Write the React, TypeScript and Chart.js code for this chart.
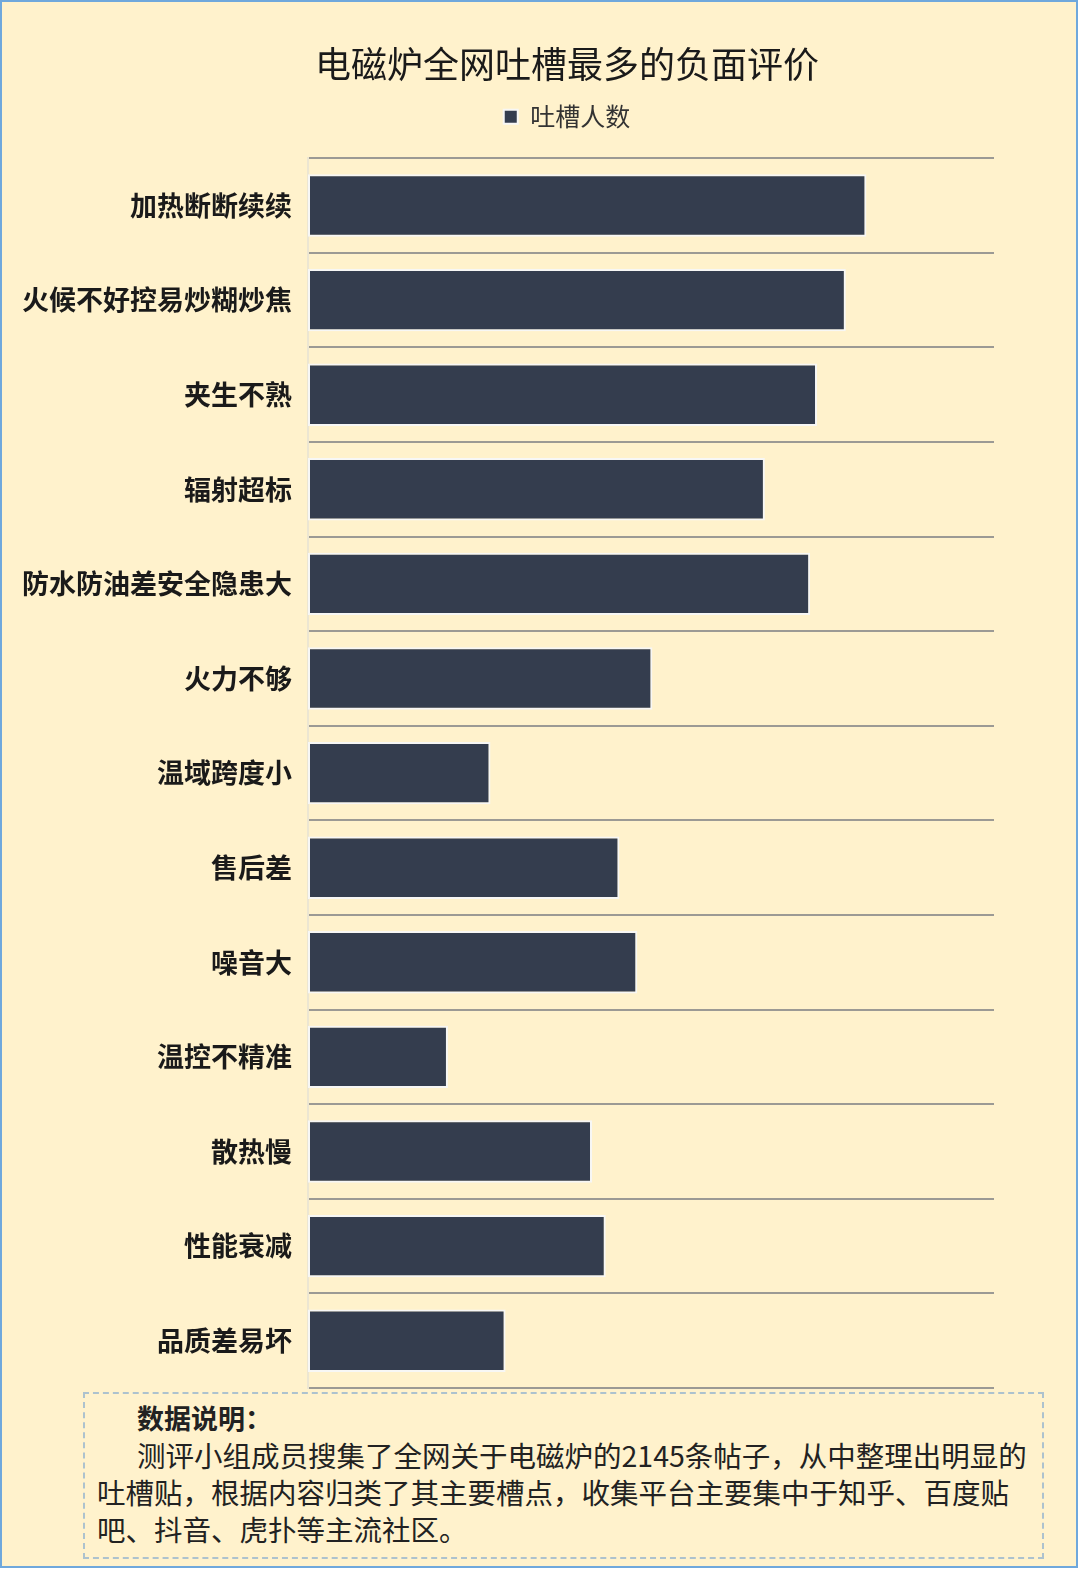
import React, { useEffect, useRef } from "react";
import { Chart, registerables } from "chart.js";

Chart.register(...registerables);

const categories = [
  "加热断断续续",
  "火候不好控易炒糊炒焦",
  "夹生不熟",
  "辐射超标",
  "防水防油差安全隐患大",
  "火力不够",
  "温域跨度小",
  "售后差",
  "噪音大",
  "温控不精准",
  "散热慢",
  "性能衰减",
  "品质差易坏",
];

const complaintCounts = [407, 392, 371, 333, 366, 251, 133, 227, 240, 102, 207, 217, 144];

const seriesName = "吐槽人数";
const chartTitle = "电磁炉全网吐槽最多的负面评价";
const axisMax = 500;

const FONT = '"Noto Sans CJK SC", "Noto Sans", sans-serif';

const legendSpacer = {
  id: "legendSpacer",
  beforeInit(chart: any) {
    const legend = chart.legend;
    if (!legend) return;
    const origFit = legend.fit;
    legend.fit = function () {
      origFit.bind(legend)();
      this.height += 19;
    };
  },
};

export default function App() {
  const ref = useRef<HTMLCanvasElement | null>(null);

  useEffect(() => {
    document.body.style.margin = "0";
    if (!ref.current) return;
    const chart = new Chart(ref.current, {
      type: "bar",
      data: {
        labels: categories,
        datasets: [
          {
            label: seriesName,
            data: complaintCounts,
            backgroundColor: "#343d4e",
            borderColor: "#f7f7f5",
            borderWidth: 2,
            borderSkipped: false,
            barPercentage: 0.66,
            categoryPercentage: 1,
          },
        ],
      },
      options: {
        indexAxis: "y",
        animation: false,
        responsive: false,
        maintainAspectRatio: false,
        layout: { padding: { left: 140, right: 86, top: 0, bottom: 4 } },
        plugins: {
          title: {
            display: true,
            text: chartTitle,
            color: "#1a1a1a",
            font: { family: FONT, size: 36, weight: "normal" },
            padding: { top: 43, bottom: 8 },
          },
          legend: {
            display: true,
            position: "top",
            labels: {
              color: "#333333",
              font: { family: FONT, size: 25 },
              boxWidth: 14,
              boxHeight: 14,
              padding: 10,
            },
          },
          tooltip: { enabled: false },
        },
        scales: {
          x: {
            display: false,
            min: 0,
            max: axisMax,
          },
          y: {
            afterFit(scale: any) {
              scale.width = 168;
              scale.paddingTop = 0;
              scale.paddingBottom = 0;
              scale._computeLabelArea = () => undefined;
            },
            grid: {
              offset: true,
              color: "#9c9a94",
              lineWidth: 2,
              drawTicks: false,
            },
            border: { display: true, color: "#ece6d2", width: 2 },
            ticks: {
              color: "#1a1a1a",
              padding: 16,
              font: { family: FONT, size: 27, weight: "bold" },
            },
          },
        },
      },
      plugins: [legendSpacer],
    });
    return () => chart.destroy();
  }, []);

  return (
    <div
      style={{
        position: "relative",
        width: 1078,
        height: 1568,
        background: "#fff2cc",
        border: "2px solid #6fa8dc",
        boxSizing: "border-box",
        overflow: "hidden",
        fontFamily: FONT,
      }}
    >
      <canvas
        ref={ref}
        width={1080}
        height={1392}
        style={{ position: "absolute", left: -2, top: -2, width: 1080, height: 1392 }}
      />
      <div
        style={{
          position: "absolute",
          left: 81,
          top: 1390,
          width: 961,
          height: 167,
          border: "2px dashed #adc2ce",
          boxSizing: "border-box",
          padding: "5px 0 0 12px",
          color: "#222222",
          fontSize: 28.5,
          lineHeight: "37px",
          whiteSpace: "nowrap",
        }}
      >
        <div style={{ paddingLeft: 40, fontWeight: "bold", fontSize: 27 }}>数据说明：</div>
        <div style={{ paddingLeft: 40 }}>测评小组成员搜集了全网关于电磁炉的2145条帖子，从中整理出明显的</div>
        <div>吐槽贴，根据内容归类了其主要槽点，收集平台主要集中于知乎、百度贴</div>
        <div>吧、抖音、虎扑等主流社区。</div>
      </div>
    </div>
  );
}
